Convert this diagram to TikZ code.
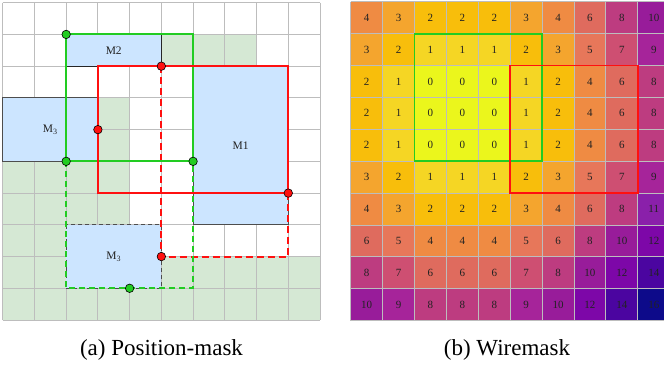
\documentclass[tikz,border=0pt]{standalone}
\usepackage{fontspec}
\setmainfont{Liberation Serif}
\newfontfamily\figserif{Liberation Serif}
% palette
\definecolor{gridgray}{HTML}{BDBDBD}
\definecolor{maskgreen}{HTML}{D5E8D4}
\definecolor{macroblue}{HTML}{CCE5FF}
\definecolor{macroedge}{HTML}{4D4D4D}
\definecolor{boxgreen}{HTML}{22CC22}
\definecolor{boxred}{HTML}{FF1010}
\definecolor{numtext}{HTML}{222222}
% wiremask cost colours (plasma-like ramp)
\definecolor{wm0}{HTML}{EBF61C}
\definecolor{wm1}{HTML}{F5D624}
\definecolor{wm2}{HTML}{F8BE0B}
\definecolor{wm3}{HTML}{F4A52E}
\definecolor{wm4}{HTML}{EF8B43}
\definecolor{wm5}{HTML}{E7775A}
\definecolor{wm6}{HTML}{DF6B5E}
\definecolor{wm7}{HTML}{CE4F72}
\definecolor{wm8}{HTML}{BD3C80}
\definecolor{wm9}{HTML}{A6249A}
\definecolor{wm10}{HTML}{981C9A}
\definecolor{wm11}{HTML}{8A20AA}
\definecolor{wm12}{HTML}{7D07A8}
\definecolor{wm13}{HTML}{6404A4}
\definecolor{wm14}{HTML}{4B05A0}
\definecolor{wm15}{HTML}{2C0794}
\definecolor{wm16}{HTML}{0D0A8A}
\begin{document}
\begin{tikzpicture}[x=1pt,y=-1pt,
  gridline/.style={draw=gridgray, line width=0.9pt},
  macro/.style={fill=macroblue, draw=macroedge, line width=1.1pt},
  macrolabel/.style={font=\figserif\fontsize{11.5}{13}\selectfont, text=numtext},
  greenbox/.style={draw=boxgreen, line width=2pt},
  redbox/.style={draw=boxred, line width=2pt},
  greendash/.style={greenbox, dash pattern=on 6pt off 4pt},
  reddash/.style={redbox, dash pattern=on 7pt off 4pt},
  pin/.style={circle, inner sep=0pt, minimum size=8.5pt, draw=black, line width=0.6pt},
  cellnum/.style={font=\figserif\fontsize{11}{13}\selectfont, text=numtext},
  caption/.style={font=\figserif\fontsize{23}{27}\selectfont}]
\useasboundingbox (0,0) rectangle (664,367);
\fill[white] (0,0) rectangle (664,367);

% ---------- (a) position mask ----------
\begin{scope}[shift={(2.7pt,-2.7pt)}, x=31.73pt, y=-31.73pt]
  % infeasible cells
  \foreach \c/\r in {5/1,6/1,7/1,3/3,3/4,0/5,1/5,2/5,3/5,0/6,1/6,2/6,3/6,
                     0/7,1/7,0/8,1/8,5/8,6/8,7/8,8/8,9/8,
                     0/9,1/9,2/9,3/9,4/9,5/9,6/9,7/9,8/9,9/9}
    \fill[maskgreen] (\c,\r) rectangle ++(1,1);
  % grid
  \foreach \i in {0,...,10} {
    \draw[gridline] (\i,0) -- (\i,10);
    \draw[gridline] (0,\i) -- (10,\i);
  }
  % placed macros
  \draw[macro] (6,2) rectangle (9,7);
  \node[macrolabel] (m1) at (7.5,4.5) {M1};
  \draw[macro, draw=black!85] (2,1) rectangle (5,2);
  \node[macrolabel] (m2) at (3.5,1.5) {M2};
  \draw[macro] (0,3) rectangle (3,5);
  \node[macrolabel] (m3a) at (1.5,4) {M\textsubscript{3}};
  \draw[macro, dash pattern=on 4pt off 3pt] (2,7) rectangle (5,9);
  \node[macrolabel] (m3b) at (3.5,8) {M\textsubscript{3}};
  % candidate boundaries
  \draw[reddash] (5,2) rectangle (9,8);
  \draw[greendash] (2,5) rectangle (6,9);
  \draw[greenbox] (2,1) rectangle (6,5);
  \draw[redbox] (3,2) rectangle (9,6);
  % pins
  \node[pin, fill=boxgreen] (g1) at (2,1) {};
  \node[pin, fill=boxgreen] (g2) at (2,5) {};
  \node[pin, fill=boxgreen] (g3) at (6,5) {};
  \node[pin, fill=boxgreen] (g4) at (4,9) {};
  \node[pin, fill=boxred] (r1) at (5,2) {};
  \node[pin, fill=boxred] (r2) at (3,4) {};
  \node[pin, fill=boxred] (r3) at (9,6) {};
  \node[pin, fill=boxred] (r4) at (5,8) {};
\end{scope}

% ---------- (b) wiremask ----------
\begin{scope}
\clip (340,0) rectangle (664,330);
\begin{scope}[shift={(350.7pt,-1.7pt)}, x=31.9pt, y=-31.9pt]
  \foreach \row [count=\r from 0] in {
      {4,3,2,2,2,3,4,6,8,10},
      {3,2,1,1,1,2,3,5,7,9},
      {2,1,0,0,0,1,2,4,6,8},
      {2,1,0,0,0,1,2,4,6,8},
      {2,1,0,0,0,1,2,4,6,8},
      {3,2,1,1,1,2,3,5,7,9},
      {4,3,2,2,2,3,4,6,8,11},
      {6,5,4,4,4,5,6,8,10,12},
      {8,7,6,6,6,7,8,10,12,14},
      {10,9,8,8,8,9,10,12,14,16}} {
    \foreach \v [count=\c from 0] in \row {
      \fill[wm\v] (\c,\r) rectangle ++(1,1);
      \node[cellnum] (w\r-\c) at (\c+0.5,\r+0.5) {\v};
    }
  }
  \foreach \i in {0,...,10} {
    \draw[gridline] (\i,0) -- (\i,10);
    \draw[gridline] (0,\i) -- (10,\i);
  }
  \draw[greenbox, line width=1.8pt] (2,1) rectangle (6,5);
  \draw[redbox, line width=1.8pt] (5,2) rectangle (9,6);
\end{scope}
\end{scope}

% ---------- captions ----------
\node[caption] (capa) at (161.5,350) {(a) Position-mask};
\node[caption] (capb) at (507,350) {(b) Wiremask};
\end{tikzpicture}
\end{document}
